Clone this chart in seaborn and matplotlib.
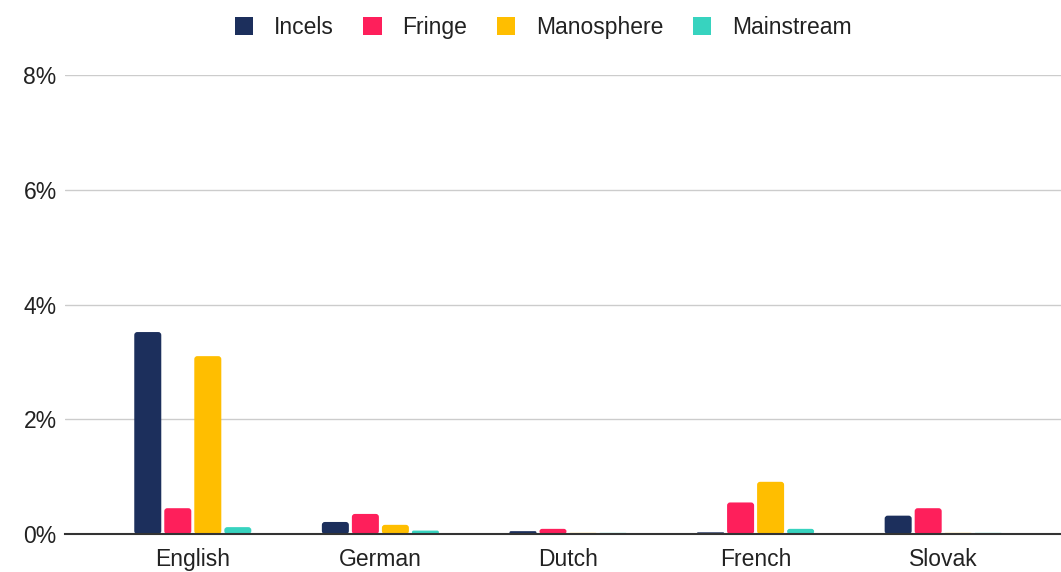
import matplotlib
matplotlib.use("Agg")
import matplotlib.pyplot as plt
import seaborn as sns
import pandas as pd
from matplotlib.ticker import FuncFormatter
from matplotlib.patches import FancyBboxPatch, Rectangle

languages = ["English", "German", "Dutch", "French", "Slovak"]
groups = ["Incels", "Fringe", "Manosphere", "Mainstream"]
incels = [3.52, 0.21, 0.05, 0.03, 0.32]
fringe = [0.45, 0.35, 0.09, 0.55, 0.45]
manosphere = [3.10, 0.16, 0.02, 0.91, 0.02]
mainstream = [0.12, 0.06, 0.02, 0.09, 0.02]
colors = ["#1c2f5c", "#fe1f5b", "#ffbe00", "#37d3bf"]
y_ticks = [0, 2, 4, 6, 8]

rows = []
for name, vals in zip(groups, [incels, fringe, manosphere, mainstream]):
    for lang, v in zip(languages, vals):
        rows.append({"Language": lang, "Group": name, "Share": v})
df = pd.DataFrame(rows)

sns.set_theme(style="white")
plt.rcParams["font.family"] = ["Liberation Sans", "DejaVu Sans"]

fig = plt.figure(figsize=(10.61, 5.72), dpi=100)
ax = fig.add_axes([0.0613, 0.0664, 0.9387, 0.8025])

sns.barplot(data=df, x="Language", y="Share", hue="Group", hue_order=groups,
            palette=colors, width=0.64, gap=0.1, ax=ax, legend=True,
            errorbar=None, linewidth=0, saturation=1)

ax.set_ylim(0, 8)
ax.set_xlim(-0.681, 4.628)

# Give the bars slightly rounded corners
px_x = ax.bbox.width / (ax.get_xlim()[1] - ax.get_xlim()[0])
px_y = ax.bbox.height / (ax.get_ylim()[1] - ax.get_ylim()[0])
aspect = px_x / px_y
for p in list(ax.patches):
    if not isinstance(p, Rectangle):
        continue
    x, y = p.get_xy()
    w, h = p.get_width(), p.get_height()
    if h <= 0:
        continue
    rs = min(3.0 / px_x, w / 2, h / aspect / 2)
    fb = FancyBboxPatch((x, y), w, h,
                        boxstyle=f"round,pad=0,rounding_size={rs}",
                        mutation_aspect=aspect, facecolor=p.get_facecolor(),
                        edgecolor="none", linewidth=0, zorder=p.get_zorder())
    p.remove()
    ax.add_patch(fb)

ax.set_yticks(y_ticks)
ax.yaxis.set_major_formatter(FuncFormatter(lambda v, p: f"{int(v)}%"))
ax.grid(axis="y", color="#cccccc", linewidth=1)
ax.set_axisbelow(True)
for s in ["left", "right", "top"]:
    ax.spines[s].set_visible(False)
ax.spines["bottom"].set_color("#333333")
ax.spines["bottom"].set_linewidth(1.5)
ax.spines["bottom"].set_zorder(5)
ax.tick_params(axis="both", length=0, labelsize=16.5, colors="#222222")
ax.tick_params(axis="y", pad=6)
ax.tick_params(axis="x", pad=10)
ax.set_xlabel("")
ax.set_ylabel("")

handles, labels = ax.get_legend_handles_labels()
ax.get_legend().remove()
fig.legend(handles, labels, loc="upper center", bbox_to_anchor=(0.512, 1.0),
           ncol=4, frameon=False, fontsize=16.5, handlelength=0.8,
           handleheight=0.8, columnspacing=1.3, handletextpad=0.9,
           labelcolor="#222222", borderaxespad=0.3)

fig.savefig("out.png", dpi=100)
